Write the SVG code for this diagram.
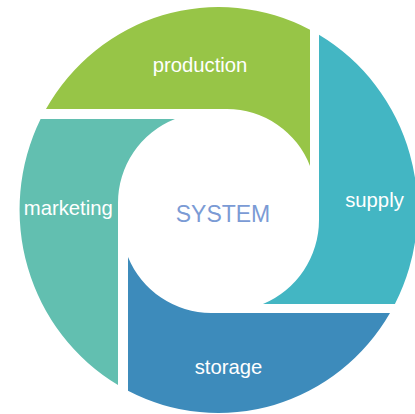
<svg xmlns="http://www.w3.org/2000/svg" width="415" height="414" viewBox="0 0 415 414">
<style>
.lbl{font-family:"Liberation Sans",Arial,sans-serif;font-size:20.3px;fill:#ffffff;text-anchor:middle}
.sys{font-family:"Liberation Sans",Arial,sans-serif;font-size:23px;fill:#7B9BD5;text-anchor:middle}
</style>
<rect width="415" height="414" fill="#ffffff"/>
<g id="production">
<path d="M46 109 A199 203 0 0 1 310 29.7 L310 166 A89 89 0 0 0 227 109 Z" fill="#97C547"/>
<text class="lbl" x="200" y="72">production</text>
</g>
<g id="supply">
<path d="M319 34.8 A199 203 0 0 1 394.9 304 L263 304 A91 91 0 0 0 319 220 Z" fill="#43B6C3"/>
<text class="lbl" x="374.5" y="207">supply</text>
</g>
<g id="storage">
<path d="M390 313 A199 203 0 0 1 128 390.8 L128 257 A90 90 0 0 0 211 313 Z" fill="#3D8BBB"/>
<text class="lbl" x="228.5" y="374">storage</text>
</g>
<g id="marketing">
<path d="M118 385 A199 203 0 0 1 40.6 119 L175 119 A90 90 0 0 0 118 203 Z" fill="#62BFB0"/>
<text class="lbl" x="68.3" y="215">marketing</text>
</g>
<g id="system">
<text class="sys" x="223" y="222">SYSTEM</text>
</g>
<g id="connectors"/>
</svg>
